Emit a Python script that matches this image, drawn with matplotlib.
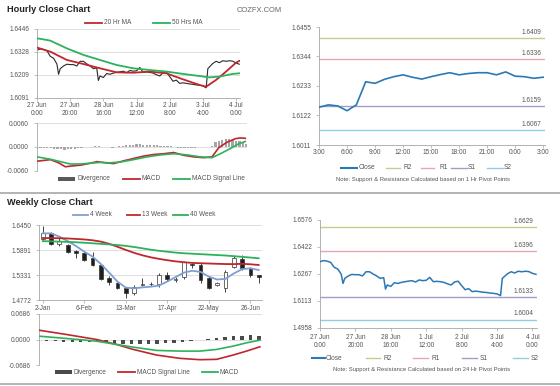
import matplotlib
matplotlib.use("Agg")
import matplotlib.pyplot as plt
import matplotlib.transforms as mtrans
from matplotlib.lines import Line2D
from matplotlib.patches import Rectangle
import numpy as np

plt.rcParams['font.family'] = ['Liberation Sans', 'DejaVu Sans']

# ---------------- DATA ----------------
# Hourly close (27 Jun 0:00 .. 4 Jul), x = trading hour index
close_hours = [0, 2, 4, 6, 8, 10, 12, 13, 14, 16, 18, 20, 22, 24, 26, 28, 30, 32, 34, 36, 37,
               38, 40, 42, 44, 46, 48, 50, 52, 54, 56, 58, 60, 62, 64, 66, 68, 70, 72, 74, 76,
               78, 80, 82, 84, 86, 88, 90, 92, 94, 96, 98, 100, 102, 103,
               104, 106, 108, 110, 112, 114, 116, 118, 120, 122]
close_vals = [1.6337, 1.6343, 1.6340, 1.6333, 1.6305, 1.6295, 1.6265, 1.6212, 1.6241, 1.6255,
              1.6264, 1.6262, 1.6262, 1.6255, 1.6279, 1.6279, 1.6266, 1.6255, 1.6241, 1.6245, 1.6180,
              1.6203, 1.6195, 1.6216, 1.6212, 1.6218, 1.6222, 1.6225, 1.6228, 1.6220, 1.6232,
              1.6228, 1.6230, 1.6247, 1.6222, 1.6224, 1.6222, 1.6218, 1.6210, 1.6203, 1.6220,
              1.6225, 1.6200, 1.6176, 1.6182, 1.6165, 1.6168, 1.6165, 1.6162, 1.6160, 1.6157,
              1.6155, 1.6152, 1.6142, 1.6241,
              1.6250, 1.6268, 1.6279, 1.6272, 1.6282, 1.6279, 1.6282, 1.6280, 1.6270, 1.6264]
ma_hours = [0, 8, 18, 28, 38, 48, 58, 68, 78, 88, 98, 102, 108, 114, 120, 122]
ma20_vals = [1.6350, 1.6329, 1.6286, 1.6265, 1.6243, 1.6222, 1.6220, 1.6226, 1.6217, 1.6186,
             1.6157, 1.6148, 1.6183, 1.6226, 1.6272, 1.6281]
ma50_hours = [0, 8, 18, 28, 38, 48, 58, 68, 78, 88, 98, 104, 110, 118, 122]
ma50_vals = [1.6398, 1.6386, 1.6346, 1.6312, 1.6286, 1.6260, 1.6243, 1.6234, 1.6226, 1.6214,
             1.6203, 1.6196, 1.6200, 1.6214, 1.6217]
hourly_xtick_hours = [0, 20, 40, 60, 80, 100, 120]
hourly_xtick_labels = ["27 Jun\n0:00", "27 Jun\n20:00", "28 Jun\n16:00", "1 Jul\n12:00",
                       "2 Jul\n8:00", "3 Jul\n4:00", "4 Jul\n0:00"]
hourly_price_ticks = [1.6091, 1.6209, 1.6328, 1.6446]

# Hourly MACD
macd_h_hours = [0, 7.8, 12.6, 16.5, 20.4, 25.3, 30.1, 35, 39.8, 44.7, 50.5, 56.3, 62.2, 68,
                73.8, 79.7, 85.5, 91.3, 97.1, 102, 105.9, 110.7, 115.6, 118.5, 121.4]
macd_h_vals = [-0.0036, -0.0032, -0.0040, -0.0050, -0.0048, -0.0046, -0.0042, -0.0037, -0.0040,
               -0.0042, -0.0035, -0.0029, -0.0023, -0.0019, -0.0017, -0.0014, -0.0021, -0.0025,
               -0.0027, -0.0025, -0.0002, 0.0012, 0.0021, 0.0023, 0.0022]
sig_h_hours = [0, 7.8, 13.6, 19.4, 25.3, 31.1, 36.9, 42.7, 48.6, 56.3, 64.1, 71.9, 79.7, 87.4,
               95.2, 102, 106.9, 112.7, 117.5, 121.4]
sig_h_vals = [-0.0025, -0.0031, -0.0037, -0.0043, -0.0043, -0.0041, -0.0039, -0.0040, -0.0038,
              -0.0032, -0.0025, -0.0020, -0.0017, -0.0020, -0.0025, -0.0027, -0.0017, -0.0004,
              0.0008, 0.0014]
div_h_hours = list(range(0, 123, 2))
div_h_vals = [-0.0004, -0.0003, -0.0002, -0.0002, -0.0003, -0.0004, -0.0005, -0.0006, -0.0007,
              -0.0006, -0.0005, -0.0004, -0.0003, -0.0002, -0.0001, 0.0000, 0.0001, 0.0002,
              0.0002, 0.0001, 0.0000, -0.0001, -0.0002, 0.0000, 0.0002, 0.0003, 0.0004, 0.0005,
              0.0006, 0.0007, 0.0007, 0.0006, 0.0006, 0.0005, 0.0004, 0.0004, 0.0003, 0.0003,
              0.0002, 0.0002, 0.0000, -0.0002, -0.0003, -0.0003, -0.0003, -0.0002, -0.0002,
              -0.0001, -0.0001, 0.0000, 0.0000, 0.0003, 0.0012, 0.0016, 0.0018, 0.0019, 0.0019,
              0.0018, 0.0016, 0.0014, 0.0011, 0.0008]
macd_h_ticks = [-0.0060, 0.0000, 0.0060]

# 1-hour pivot chart (last 24 h)
pivot1_hours = list(range(25))
pivot1_close = [1.6153, 1.6162, 1.6158, 1.6140, 1.6162, 1.6249, 1.6243, 1.6258, 1.6268, 1.6275,
                1.6266, 1.6259, 1.6268, 1.6276, 1.6283, 1.6275, 1.6280, 1.6283, 1.6283, 1.6275,
                1.6286, 1.6270, 1.6268, 1.6262, 1.6266]
pivot1_names = ["R2", "R1", "S1", "S2"]
pivot1_levels = [1.6412, 1.6336, 1.6159, 1.6067]
pivot1_labels = ["1.6409", "1.6336", "1.6159", "1.6067"]
pivot1_ticks = [1.6011, 1.6122, 1.6233, 1.6344, 1.6455]
pivot1_xticks = [0, 3, 6, 9, 12, 15, 18, 21, 24]
pivot1_xlabels = ["3:00", "6:00", "9:00", "12:00", "15:00", "18:00", "21:00", "0:00", "3:00"]

# 24-hour pivot chart (lines drawn where they appear; labels as printed)
pivot24_names = ["R2", "R1", "S1", "S2"]
pivot24_levels = [1.6535, 1.6397, 1.6135, 1.6005]
pivot24_labels = ["1.6629", "1.6396", "1.6133", "1.6004"]
pivot24_ticks = [1.5958, 1.6113, 1.6267, 1.6422, 1.6576]
pivot24_ticklabels = ["1.4958", "1.6113", "1.6267", "1.6422", "1.6576"]

# Weekly candles (2-Jan .. 3-Jul)
wk_open = [1.6131, 1.6278, 1.6027, 1.6004, 1.5871, 1.5819, 1.5708, 1.5559, 1.5262, 1.5165,
           1.5040, 1.4928, 1.5113, 1.5130, 1.5129, 1.5336, 1.5230, 1.5300, 1.5581, 1.5559,
           1.5262, 1.5113, 1.5040, 1.5521, 1.5686, 1.5485, 1.5336]
wk_high = [1.6428, 1.6294, 1.6190, 1.6030, 1.5890, 1.5856, 1.5856, 1.5580, 1.5314, 1.5187,
           1.5075, 1.5120, 1.5262, 1.5190, 1.5374, 1.5410, 1.5300, 1.5650, 1.5610, 1.5600,
           1.5314, 1.5170, 1.5447, 1.5782, 1.5782, 1.5520, 1.5345]
wk_low = [1.6116, 1.6012, 1.5990, 1.5826, 1.5708, 1.5648, 1.5537, 1.5220, 1.5113, 1.5024,
          1.4830, 1.4900, 1.5090, 1.5100, 1.5075, 1.5210, 1.5190, 1.5250, 1.5500, 1.5158,
          1.5030, 1.5100, 1.4964, 1.5500, 1.5440, 1.5300, 1.5150]
wk_close = [1.6278, 1.6027, 1.6100, 1.5855, 1.5819, 1.5670, 1.5559, 1.5240, 1.5187, 1.5040,
            1.4928, 1.5075, 1.5135, 1.5140, 1.5336, 1.5240, 1.5245, 1.5620, 1.5560, 1.5225,
            1.5040, 1.5165, 1.5410, 1.5708, 1.5485, 1.5336, 1.5285]
ma4w = [1.6264, 1.6264, 1.6190, 1.6093, 1.5982, 1.5856, 1.5745, 1.5581, 1.5388, 1.5188, 1.5054,
        1.5039, 1.5060, 1.5075, 1.5100, 1.5190, 1.5290, 1.5390, 1.5430, 1.5405, 1.5300, 1.5235,
        1.5250, 1.5370, 1.5465, 1.5485, 1.5447]
ma13w = [1.6160, 1.6158, 1.6155, 1.6150, 1.6140, 1.6128, 1.6110, 1.6080, 1.6030, 1.5965,
         1.5895, 1.5830, 1.5775, 1.5730, 1.5695, 1.5665, 1.5640, 1.5620, 1.5605, 1.5598,
         1.5592, 1.5585, 1.5580, 1.5578, 1.5585, 1.5575, 1.5559]
ma40w = [1.6090, 1.6085, 1.6080, 1.6073, 1.6065, 1.6055, 1.6042, 1.6030, 1.6017, 1.6003,
         1.5985, 1.5960, 1.5930, 1.5900, 1.5875, 1.5855, 1.5835, 1.5820, 1.5810, 1.5800,
         1.5790, 1.5780, 1.5770, 1.5755, 1.5740, 1.5725, 1.5708]
wk_xtick_idx = [0, 5, 10, 15, 20, 25]
wk_xtick_labels = ["2-Jan", "6-Feb", "13-Mar", "17-Apr", "22-May", "26-Jun"]
wk_price_ticks = [1.4772, 1.5331, 1.5891, 1.6450]

# Weekly MACD
wk_div = [-0.0045, -0.0045, -0.0062, -0.0062, -0.0062, -0.0062, -0.0080, -0.0089, -0.0116,
          -0.0134, -0.0134, -0.0134, -0.0134, -0.0134, -0.0107, -0.0089, -0.0062, -0.0036,
          -0.0009, 0.0018, 0.0045, 0.0062, 0.0089, 0.0107, 0.0116, 0.0107]
wk_line_x = [-0.87, 2.35, 5.88, 8.24, 10.19, 12.94, 15.68, 18.04, 20.0, 21.96, 23.53, 25.1]
wk_signal = [0.0249, 0.0134, 0.0000, -0.0134, -0.0267, -0.0418, -0.0507, -0.0543, -0.0534,
             -0.0418, -0.0312, -0.0196]
wk_macd = [0.0089, 0.0027, -0.0045, -0.0134, -0.0205, -0.0294, -0.0312, -0.0312, -0.0267,
           -0.0178, -0.0089, -0.0018]
wk_macd_ticks = [-0.0686, 0.0000, 0.0686]

# ---------------- STYLE ----------------
W, H = 560, 386
FS = 4.7
TC = "#555555"
AXC = "#a6a6a6"
GRID = "#d9d9d9"
RED = "#c0272d"
GREEN = "#2db25c"
BLUE = "#2b78b5"
STEEL = "#7f9fd2"
LVL = {"R2": "#c8cb8c", "R1": "#e5a8b0", "S1": "#a49cc8", "S2": "#8fd0de"}

fig = plt.figure(figsize=(W / 100, H / 100), dpi=100)
fig.patch.set_facecolor("white")


def add_ax(l, t, r, b):
    return fig.add_axes([l / W, 1 - b / H, (r - l) / W, (b - t) / H])


def style(ax, grid=True, bottom=True, xpad=1.0):
    for s in ["top", "right"]:
        ax.spines[s].set_visible(False)
    for s in ["left", "bottom"]:
        ax.spines[s].set_color(AXC)
        ax.spines[s].set_linewidth(0.6)
    ax.tick_params(axis="both", labelsize=FS, colors=AXC, labelcolor=TC, width=0.5)
    ax.tick_params(axis="y", length=2.2, pad=3.5)
    ax.tick_params(axis="x", length=2.0, pad=xpad)
    if not bottom:
        ax.spines["bottom"].set_visible(False)
        ax.set_xticks([])
    if grid:
        ax.yaxis.grid(True, color=GRID, lw=0.6)
        ax.set_axisbelow(True)
    ax.set_facecolor("none")


def fy(y):
    return 1 - y / H


def leg_line(x0, x1, y, color, label, tx, lw=1.3):
    fig.add_artist(Line2D([x0 / W, x1 / W], [fy(y), fy(y)], color=color, lw=lw,
                          transform=fig.transFigure))
    fig.text(tx / W, fy(y), label, fontsize=FS, color=TC, va="center", ha="left")


def leg_box(x0, x1, y, color, label, tx):
    fig.add_artist(Rectangle((x0 / W, fy(y + 2)), (x1 - x0) / W, 4 / H, color=color,
                             transform=fig.transFigure, lw=0))
    fig.text(tx / W, fy(y), label, fontsize=FS, color=TC, va="center", ha="left")


# titles
fig.text(7 / W, fy(9), "Hourly Close Chart", fontsize=6.6, fontweight="bold",
         color="#222222", va="center", ha="left")
fig.text(7 / W, fy(202.3), "Weekly Close Chart", fontsize=6.6, fontweight="bold",
         color="#222222", va="center", ha="left")
fig.text(237 / W, fy(10.5), "COZFX.COM", fontsize=5.4, color="#666666", va="center", ha="left")

# separators
for yy in (192.7, 384.3):
    fig.add_artist(Line2D([0, 1], [fy(yy), fy(yy)], color="#b3b3b3", lw=1.4,
                          transform=fig.transFigure))

# ---- A1 hourly price ----
a1 = add_ax(37, 29, 240, 97.7)
style(a1, xpad=1.0)
a1.plot(close_hours, close_vals, color="#2a2a2a", lw=0.8, zorder=2)
a1.plot(ma_hours, ma20_vals, color=RED, lw=1.3, zorder=3)
a1.plot(ma50_hours, ma50_vals, color=GREEN, lw=1.3, zorder=3)
a1.set_xlim(0, 122.4)
a1.set_ylim(hourly_price_ticks[0], hourly_price_ticks[-1])
a1.set_yticks(hourly_price_ticks)
a1.set_yticklabels([f"{v:.4f}" for v in hourly_price_ticks])
a1.set_xticks(hourly_xtick_hours)
a1.set_xticklabels(hourly_xtick_labels, linespacing=1.15)
leg_line(85, 102, 22.7, RED, "20 Hr MA", 103.5)
leg_line(153, 170, 22.7, GREEN, "50 Hrs MA", 172)

# ---- A2 hourly MACD ----
a2 = add_ax(37, 123.3, 247, 170.7)
style(a2, bottom=False)
a2.bar(div_h_hours, div_h_vals, width=1.3, color="#a6a6a6", zorder=2)
a2.plot(macd_h_hours, macd_h_vals, color=RED, lw=1.2, zorder=3)
a2.plot(sig_h_hours, sig_h_vals, color=GREEN, lw=1.2, zorder=3)
a2.set_xlim(0, 122.4)
a2.set_ylim(macd_h_ticks[0], macd_h_ticks[-1])
a2.set_yticks(macd_h_ticks)
a2.set_yticklabels([f"{v:.4f}" for v in macd_h_ticks])
leg_box(58, 75, 179, "#595959", "Divergence", 77)
leg_line(123, 140, 179, RED, "MACD", 142)
leg_line(173, 190, 179, GREEN, "MACD Signal Line", 192)


def pivot_levels(ax, names, levels, labels):
    tr = mtrans.blended_transform_factory(ax.transAxes, ax.transData)
    for k, v, lab in zip(names, levels, labels):
        ax.axhline(v, color=LVL[k], lw=1.0, zorder=1)
        ax.annotate(lab, xy=(0.985, v), xycoords=tr, xytext=(0, 1.5),
                    textcoords="offset points", ha="right", va="bottom",
                    fontsize=FS, color=TC)


# ---- A3 1-hour pivot ----
a3 = add_ax(319, 27, 545, 145)
style(a3, grid=False, xpad=0.6)
pivot_levels(a3, pivot1_names, pivot1_levels, pivot1_labels)
a3.plot(pivot1_hours, pivot1_close, color=BLUE, lw=1.2, zorder=3)
a3.set_xlim(0, 24.2)
a3.set_ylim(pivot1_ticks[0], pivot1_ticks[-1])
a3.set_yticks(pivot1_ticks)
a3.set_yticklabels([f"{v:.4f}" for v in pivot1_ticks])
a3.set_xticks(pivot1_xticks)
a3.set_xticklabels(pivot1_xlabels)
leg_line(341, 356.7, 167.7, BLUE, "Close", 359, lw=1.5)
leg_line(386, 400, 167.7, LVL["R2"], "R2", 403.3, lw=1.0)
leg_line(420.7, 434, 167.7, LVL["R1"], "R1", 439, lw=1.0)
leg_line(450.7, 466.7, 167.7, LVL["S1"], "S1", 467.7, lw=1.0)
leg_line(486.7, 502.7, 167.7, LVL["S2"], "S2", 504, lw=1.0)
fig.text(423 / W, fy(180), "Note: Support & Resistance Calculated based on 1 Hr Pivot Points",
         fontsize=4.2, color=TC, ha="center", va="center")

# ---- A4 weekly candles ----
a4 = add_ax(39, 225, 262, 300.3)
style(a4, xpad=1.3)
idx = np.arange(len(wk_open))
o = np.array(wk_open); c = np.array(wk_close)
up = c >= o
a4.vlines(idx, wk_low, wk_high, color="#262626", lw=0.6, zorder=2)
a4.bar(idx, np.abs(c - o) + 0.0004, bottom=np.minimum(o, c) - 0.0002, width=0.45,
       color=np.where(up, "white", "#1f1f1f"), edgecolor="#333333", lw=0.5, zorder=2)
a4.plot(idx, ma4w, color=STEEL, lw=1.3, zorder=3)
a4.plot(idx, ma13w, color=RED, lw=1.3, zorder=3)
a4.plot(idx, ma40w, color=GREEN, lw=1.3, zorder=3)
a4.set_xlim(-0.45, 26.4)
a4.set_ylim(wk_price_ticks[0], wk_price_ticks[-1])
a4.set_yticks(wk_price_ticks)
a4.set_yticklabels([f"{v:.4f}" for v in wk_price_ticks])
a4.set_xticks(wk_xtick_idx)
a4.set_xticklabels(wk_xtick_labels)
leg_line(73, 88, 215, STEEL, "4 Week", 90)
leg_line(127, 140, 215, RED, "13 Week", 142)
leg_line(173, 188, 215, GREEN, "40 Week", 190)

# ---- A5 weekly MACD ----
a5 = add_ax(39, 314, 262, 365)
style(a5, bottom=False)
a5.bar(np.arange(len(wk_div)), wk_div, width=0.38, color="#4a4a4a", zorder=2)
a5.plot(wk_line_x, wk_signal, color=RED, lw=1.2, zorder=3)
a5.plot(wk_line_x, wk_macd, color=GREEN, lw=1.2, zorder=3)
a5.set_xlim(-0.9, 25.35)
a5.set_ylim(wk_macd_ticks[0], wk_macd_ticks[-1])
a5.set_yticks(wk_macd_ticks)
a5.set_yticklabels([f"{v:.4f}" for v in wk_macd_ticks])
leg_box(55, 72, 372, "#4a4a4a", "Divergence", 73)
leg_line(118, 135, 372, RED, "MACD Signal Line", 137)
leg_line(202, 218, 372, GREEN, "MACD", 220)

# ---- A6 24-hour pivot ----
a6 = add_ax(320, 220, 537, 327.7)
style(a6, grid=False, xpad=2.4)
pivot_levels(a6, pivot24_names, pivot24_levels, pivot24_labels)
a6.plot(close_hours, close_vals, color=BLUE, lw=1.1, zorder=3)
a6.set_xlim(0, 122.6)
a6.set_ylim(pivot24_ticks[0], pivot24_ticks[-1])
a6.set_yticks(pivot24_ticks)
a6.set_yticklabels(pivot24_ticklabels)
a6.set_xticks(hourly_xtick_hours)
a6.set_xticklabels(hourly_xtick_labels, linespacing=1.15)
leg_line(311.7, 325, 358, BLUE, "Close", 326, lw=1.5)
leg_line(366, 380, 358, LVL["R2"], "R2", 384, lw=1.0)
leg_line(413, 428, 358, LVL["R1"], "R1", 431.7, lw=1.0)
leg_line(461.7, 476.7, 358, LVL["S1"], "S1", 479.3, lw=1.0)
leg_line(513, 528, 358, LVL["S2"], "S2", 530.7, lw=1.0)
fig.text(422 / W, fy(369), "Note: Support & Resistance Calculated based on 24 Hr Pivot Points",
         fontsize=4.2, color=TC, ha="center", va="center")

fig.savefig("out.png", dpi=100, facecolor="white")
